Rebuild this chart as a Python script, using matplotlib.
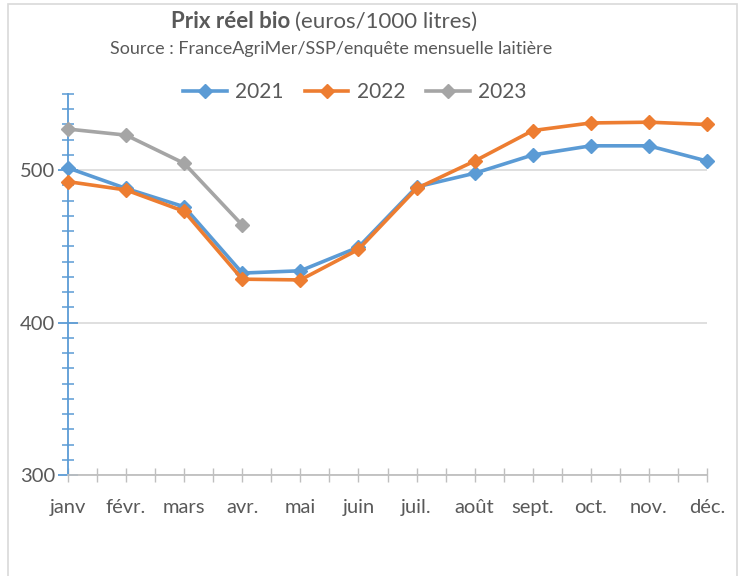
import matplotlib
matplotlib.use("Agg")
import matplotlib.pyplot as plt
from matplotlib.ticker import MultipleLocator
from matplotlib.patches import Rectangle

months = ["janv", "févr.", "mars", "avr.", "mai", "juin", "juil.", "août", "sept.", "oct.", "nov.", "déc."]
y2021 = [501.5, 488, 476, 432.5, 434, 449.5, 489, 498, 510, 516, 516, 506]
y2022 = [492.5, 487, 473, 428.5, 428, 448, 488, 506, 526, 531, 531.5, 530]
y2023 = [527, 523, 504.5, 464]
series = [("2021", y2021, "#5b9bd5"), ("2022", y2022, "#ed7d31"), ("2023", y2023, "#a5a5a5")]

plt.rcParams['font.family'] = ['Lato', 'DejaVu Sans']
txt = "#595959"

fig = plt.figure(figsize=(7.42, 5.76), dpi=100)
ax = fig.add_axes([68/742, 1-475/576, (707-68)/742, (475-94)/576])

x = list(range(len(months)))
for name, vals, col in series:
    ax.plot(x[:len(vals)], vals, color=col, lw=2.6, marker="D", ms=7.5, label=name,
            clip_on=False, zorder=3)

ax.set_xlim(0, 11)
ax.set_ylim(300, 550)
ax.set_xticks(x)
ax.set_xticklabels(months)
ax.xaxis.set_minor_locator(MultipleLocator(0.5))
ax.yaxis.set_major_locator(MultipleLocator(100))
ax.yaxis.set_minor_locator(MultipleLocator(10))
ax.set_yticks([300, 400, 500])

for s in ["top", "right"]:
    ax.spines[s].set_visible(False)
ax.spines["left"].set_color("#5b9bd5")
ax.spines["left"].set_linewidth(1.3)
ax.spines["bottom"].set_color("#bfbfbf")
ax.spines["bottom"].set_linewidth(1.3)

ax.tick_params(axis="y", which="major", direction="inout", length=14, width=1.3, color="#5b9bd5",
               labelsize=14.5, labelcolor=txt, pad=2)
ax.tick_params(axis="y", which="minor", direction="inout", length=9, width=1.1, color="#5b9bd5")
ax.tick_params(axis="x", which="both", direction="inout", length=10, width=1, color="#bfbfbf",
               labelsize=14.5, labelcolor=txt, pad=12)

ax.grid(axis="y", which="major", color="#d9d9d9", lw=1.2)
ax.set_axisbelow(True)

fig.text(290/742, 1-22/576, "Prix réel bio", fontweight="bold", fontsize=16, color=txt,
         ha="right", va="center")
fig.text(295/742, 1-22/576, "(euros/1000 litres)", fontsize=16, color=txt,
         ha="left", va="center")
fig.text(331/742, 1-49/576, "Source : FranceAgriMer/SSP/enquête mensuelle laitière",
         fontsize=13, color=txt, ha="center", va="center")

leg = fig.legend(loc="center", bbox_to_anchor=(355/742, 1-92/576), ncol=3, frameon=False,
                 fontsize=15, handlelength=2.1, columnspacing=1.0, handletextpad=0.4,
                 labelcolor=txt)

fig.patches.append(Rectangle((8/742, -0.05), (737-8)/742, 1.05-4/576, transform=fig.transFigure,
                             fill=False, edgecolor="#d9d9d9", lw=1.2))

fig.savefig("out.png", dpi=100)
